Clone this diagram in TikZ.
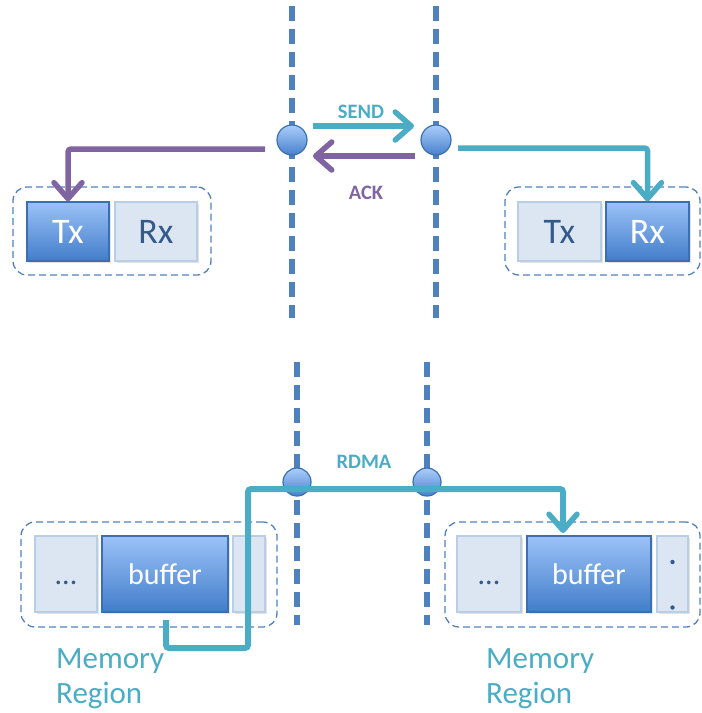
\documentclass[tikz,border=0pt]{standalone}
\usepackage{fontspec}
\setmainfont{Carlito}
\usetikzlibrary{arrows.meta,shadows}
\definecolor{tealc}{RGB}{75,172,198}
\definecolor{purp}{RGB}{128,100,162}
\definecolor{lineblue}{RGB}{79,129,189}
\definecolor{darktop}{RGB}{155,194,247}
\definecolor{darkbot}{RGB}{66,125,202}
\definecolor{darkedge}{RGB}{60,110,180}
\definecolor{lightfill}{RGB}{220,230,242}
\definecolor{lightedge}{RGB}{185,205,229}
\definecolor{lighttext}{RGB}{52,90,140}
\definecolor{porttop}{RGB}{172,206,250}
\definecolor{portbot}{RGB}{72,128,206}
\begin{document}
\begin{tikzpicture}[x=1pt,y=-1pt,
  darkbox/.style={draw=darkedge, line width=1.2pt, top color=darktop, bottom color=darkbot,
    text=white, inner sep=0pt, drop shadow={opacity=0.22,shadow xshift=1.5pt,shadow yshift=-2pt}},
  lightbox/.style={draw=lightedge, line width=1.2pt, fill=lightfill,
    text=lighttext, inner sep=0pt, drop shadow={opacity=0.22,shadow xshift=1.5pt,shadow yshift=-2pt}},
  bigtxt/.style={font=\fontsize{36}{40}\selectfont},
  buftxt/.style={font=\fontsize{30}{36}\selectfont},
  grp/.style={draw=lineblue, line width=1.3pt, dash pattern=on 7pt off 4pt, rounded corners=14pt, inner sep=0pt},
  vline/.style={draw=lineblue, line width=5.5pt, dash pattern=on 15pt off 8pt},
  port/.style={circle, draw=darkedge, line width=1.2pt, top color=porttop, bottom color=portbot,
    inner sep=0pt},
  lbl/.style={font=\fontsize{20.5}{24}\selectfont\bfseries},
  memlbl/.style={font=\fontsize{31}{35}\selectfont, text=tealc, align=left, inner sep=0pt, anchor=north west},
  tip/.style={-{Straight Barb[length=16pt,width=28pt,line width=5.5pt,round]}},
  tealline/.style={draw=tealc, line width=5.5pt, tip},
  purpline/.style={draw=purp, line width=5.5pt, tip},
]
\useasboundingbox (0,0) rectangle (702,713);

% ---------- top section ----------
\coordinate (v1t) at (292,6);  \coordinate (v1b) at (292,318);
\coordinate (v2t) at (436,6);  \coordinate (v2b) at (436,318);
\draw[vline] (v1t) -- (v1b);
\draw[vline] (v2t) -- (v2b);
\node[port, minimum size=30pt] (p1) at (292,140) {};
\node[port, minimum size=30pt] (p2) at (436,140) {};

\node[grp, minimum width=198pt, minimum height=88pt] (gTL) at (112,231) {};
\node[darkbox, bigtxt, minimum width=82pt, minimum height=59pt] (tlTx) at (68,231.5) {Tx};
\node[lightbox, bigtxt, minimum width=82pt, minimum height=59pt] (tlRx) at (156,231.5) {Rx};

\node[grp, minimum width=195pt, minimum height=88pt] (gTR) at (602.5,231) {};
\node[lightbox, bigtxt, minimum width=83pt, minimum height=59pt] (trTx) at (559.5,231.5) {Tx};
\node[darkbox, bigtxt, minimum width=83pt, minimum height=59pt] (trRx) at (647.5,231.5) {Rx};

\node[lbl, text=tealc] (send) at (361,112) {SEND};
\node[lbl, text=purp] (ack) at (366,193) {ACK};

\coordinate (s1) at (313,126); \coordinate (s2) at (414,126);
\draw[tealline] (s1) -- (s2);
\coordinate (a1) at (415,156); \coordinate (a2) at (313,156);
\draw[purpline] (a1) -- (a2);

\coordinate (l1) at (265,149);
\draw[purpline, rounded corners=3pt] (l1) -- (tlTx.north |- l1) -- (tlTx.north);
\coordinate (r1) at (458,148);
\draw[tealline, rounded corners=3pt] (r1) -- (trRx.north |- r1) -- (trRx.north);

% ---------- bottom section ----------
\coordinate (v3t) at (297,362); \coordinate (v3b) at (297,625);
\coordinate (v4t) at (427,362); \coordinate (v4b) at (427,625);
\draw[vline] (v3t) -- (v3b);
\draw[vline] (v4t) -- (v4b);
\node[port, minimum size=28pt] (p3) at (297,482) {};
\node[port, minimum size=28pt] (p4) at (427,482) {};

\node[grp, minimum width=256pt, minimum height=105pt] (gBL) at (149,574.5) {};
\node[lightbox, buftxt, minimum width=62pt, minimum height=76pt, text height=20pt, text depth=0pt] (blDots) at (66,574) {...};
\node[darkbox, buftxt, minimum width=126pt, minimum height=76pt] (blBuf) at (165,574) {buffer};
\node[lightbox, minimum width=32pt, minimum height=76pt] (blMore) at (249,574) {};

\node[grp, minimum width=255pt, minimum height=105pt] (gBR) at (572.5,574.5) {};
\node[lightbox, buftxt, minimum width=64pt, minimum height=76pt, text height=20pt, text depth=0pt] (brDots) at (489,574) {...};
\node[darkbox, buftxt, minimum width=124pt, minimum height=76pt] (brBuf) at (589,574) {buffer};
\node[lightbox, minimum width=31pt, minimum height=76pt] (brMore) at (672.5,574) {};
\fill[lighttext] (672.5,562) circle (2.2pt) (672.5,607.5) circle (2.2pt);

\node[lbl, text=tealc] (rdma) at (364,462) {RDMA};

\coordinate (d0) at (166,620);
\coordinate (d1) at (166,648);
\coordinate (d2) at (248,648);
\coordinate (d3) at (248,489);
\coordinate (d4) at (563,489);
\coordinate (d5) at (563,533);
\draw[tealline, line width=6pt, rounded corners=3pt] (d0) -- (d1) -- (d2) -- (d3) -- (d4) -- (d5);

\node[memlbl] (memL) at (56,648) {Memory\\Region};
\node[memlbl] (memR) at (486,648) {Memory\\Region};
\end{tikzpicture}
\end{document}
